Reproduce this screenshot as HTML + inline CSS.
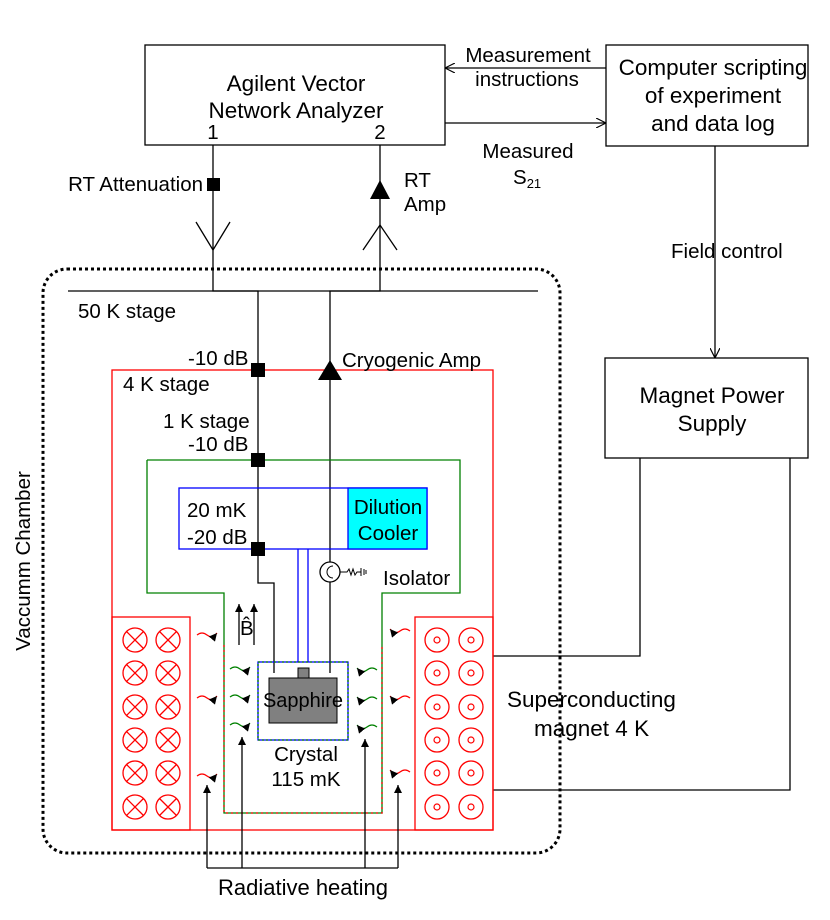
<!DOCTYPE html>
<html><head><meta charset="utf-8"><style>
html,body{margin:0;padding:0;background:#fff}
svg{display:block}
text{font-family:"Liberation Sans",Arial,sans-serif;font-size:20.5px;fill:#000}
.big{font-size:22.5px}
</style></head><body>
<svg width="830" height="920" viewBox="0 0 830 920" xmlns="http://www.w3.org/2000/svg">
<defs>
<marker id="ah" markerWidth="10" markerHeight="10" refX="9" refY="5" orient="auto" markerUnits="userSpaceOnUse"><path d="M0,0 L10,5 L0,10" fill="none" stroke="#000" stroke-width="1.2"/></marker>
<marker id="fa" markerWidth="8" markerHeight="10" refX="8" refY="4" orient="auto" markerUnits="userSpaceOnUse"><path d="M0,0 L8,4 L0,8 z" fill="#000"/></marker>
<g id="wr"><path d="M0,0 q5,-4 10,0 t10,-2" fill="none" stroke="red" stroke-width="1.2" marker-end="url(#fa)"/></g>
<g id="wg"><path d="M0,0 q5,-4 10,0 t10,-2" fill="none" stroke="green" stroke-width="1.2" marker-end="url(#fa)"/></g>
<g id="cx"><circle r="12" fill="none" stroke="red" stroke-width="1.3"/><path d="M-8.5,-8.5 L8.5,8.5 M-8.5,8.5 L8.5,-8.5" stroke="red" stroke-width="1.3"/></g>
<g id="cd"><circle r="12" fill="none" stroke="red" stroke-width="1.3"/><circle r="3" fill="none" stroke="red" stroke-width="1.2"/></g>
</defs>
<g stroke="#000" stroke-width="1.3" fill="none">
<rect x="145" y="45" width="300" height="100"/>
<rect x="606" y="45" width="202" height="101"/>
<rect x="605" y="358" width="203" height="100"/>
<line x1="606" y1="68" x2="446" y2="68" marker-end="url(#ah)"/>
<line x1="445" y1="123" x2="605" y2="123" marker-end="url(#ah)"/>
<line x1="715" y1="146" x2="715" y2="357" marker-end="url(#ah)"/>
<polyline points="640,458 640,656 493,656"/>
<polyline points="790,458 790,790 493,790"/>
<rect x="43" y="269" width="517" height="584" rx="24" stroke-width="3" stroke-dasharray="3,3"/>
<line x1="68" y1="291" x2="538" y2="291"/>
<polyline points="213,145 213,291 258,291 258,583 274,583 274,673"/>
<polyline points="380,145 380,291 330,291 330,562"/>
<line x1="330" y1="582" x2="330" y2="673"/>
<path d="M196,222 L213,250 L230,222"/>
<path d="M363,250 L380,225 L397,250"/>
</g>
<rect x="207" y="178" width="13" height="13" fill="#000"/>
<path d="M380,180 L370,199 L390,199 z" fill="#000"/>
<rect x="112" y="370" width="381" height="460" fill="none" stroke="red" stroke-width="1.3"/>
<polyline points="147,460 147,593 224,593 224,813 382,813 382,593 460,593 460,460 147,460" fill="none" stroke="green" stroke-width="1.3"/>
<polyline points="224,645 224,813 382,813 382,645" fill="none" stroke="red" stroke-width="1.3" stroke-dasharray="2,3"/>
<rect x="179" y="488" width="248" height="61" fill="none" stroke="blue" stroke-width="1.3"/>
<rect x="348" y="488" width="79" height="61" fill="#00ffff" stroke="blue" stroke-width="1.3"/>
<line x1="298" y1="549" x2="298" y2="662" stroke="blue" stroke-width="1.3"/>
<line x1="308" y1="549" x2="308" y2="662" stroke="blue" stroke-width="1.3"/>
<g fill="#000">
<rect x="251" y="363" width="14" height="14"/>
<rect x="251" y="453" width="14" height="14"/>
<rect x="251" y="542" width="14" height="14"/>
<path d="M330,360 L318,380 L342,380 z"/>
</g>
<circle cx="330" cy="572" r="10" fill="#fff" stroke="#000" stroke-width="1.3"/>
<path d="M333,566 a6,6 0 1 0 0,12" fill="none" stroke="#000" stroke-width="1"/>
<path d="M340,572 L347,572 l2,-3 l2,6 l2,-6 l2,6 l2,-3 L361,572 M361,568 v8 M364,569 v6 M366,570 v4" fill="none" stroke="#000" stroke-width="1"/>
<rect x="258" y="662" width="90" height="78" fill="none" stroke="blue" stroke-width="1.3"/>
<rect x="258" y="662" width="90" height="78" fill="none" stroke="green" stroke-width="1.3" stroke-dasharray="2,2"/>
<rect x="269" y="678" width="68" height="45" fill="#808080" stroke="#000" stroke-width="1"/>
<rect x="298" y="668" width="11" height="10" fill="#808080" stroke="#000" stroke-width="1"/>
<rect x="112" y="617" width="78" height="213" fill="none" stroke="red" stroke-width="1.3"/>
<rect x="415" y="617" width="78" height="213" fill="none" stroke="red" stroke-width="1.3"/>
<g>
<use href="#cx" x="135" y="640"/><use href="#cx" x="168" y="640"/>
<use href="#cx" x="135" y="673"/><use href="#cx" x="168" y="673"/>
<use href="#cx" x="135" y="707"/><use href="#cx" x="168" y="707"/>
<use href="#cx" x="135" y="740"/><use href="#cx" x="168" y="740"/>
<use href="#cx" x="135" y="773"/><use href="#cx" x="168" y="773"/>
<use href="#cx" x="135" y="807"/><use href="#cx" x="168" y="807"/>
<use href="#cd" x="437" y="640"/><use href="#cd" x="471" y="640"/>
<use href="#cd" x="437" y="673"/><use href="#cd" x="471" y="673"/>
<use href="#cd" x="437" y="707"/><use href="#cd" x="471" y="707"/>
<use href="#cd" x="437" y="740"/><use href="#cd" x="471" y="740"/>
<use href="#cd" x="437" y="773"/><use href="#cd" x="471" y="773"/>
<use href="#cd" x="437" y="807"/><use href="#cd" x="471" y="807"/>
</g>
<use href="#wr" x="197" y="635"/><use href="#wr" x="197" y="698"/><use href="#wr" x="197" y="776"/>
<use href="#wg" x="230" y="669"/><use href="#wg" x="230" y="697"/><use href="#wg" x="230" y="725"/>
<use href="#wg" transform="translate(377,670) scale(-1,1)"/><use href="#wg" transform="translate(377,699) scale(-1,1)"/><use href="#wg" transform="translate(377,727) scale(-1,1)"/>
<use href="#wr" transform="translate(410,631) scale(-1,1)"/><use href="#wr" transform="translate(410,698) scale(-1,1)"/><use href="#wr" transform="translate(410,772) scale(-1,1)"/>
<g stroke="#000" stroke-width="1.3" fill="none">
<line x1="239" y1="645" x2="239" y2="604" marker-end="url(#fa)"/>
<line x1="254" y1="645" x2="254" y2="604" marker-end="url(#fa)"/>
<line x1="207" y1="868" x2="207" y2="785" marker-end="url(#fa)"/>
<line x1="242" y1="868" x2="242" y2="737" marker-end="url(#fa)"/>
<line x1="365" y1="868" x2="365" y2="739" marker-end="url(#fa)"/>
<line x1="398" y1="868" x2="398" y2="785" marker-end="url(#fa)"/>
<line x1="207" y1="868" x2="398" y2="868"/>
</g>
<g text-anchor="middle">
<text class="big" x="296" y="91">Agilent Vector</text>
<text class="big" x="296" y="118">Network Analyzer</text>
<text x="213" y="139">1</text>
<text x="380" y="139">2</text>
<text class="big" x="713" y="75">Computer scripting</text>
<text class="big" x="713" y="103">of experiment</text>
<text class="big" x="713" y="131">and data log</text>
<text class="big" x="712" y="403">Magnet Power</text>
<text class="big" x="712" y="431">Supply</text>
<text x="528" y="62">Measurement</text>
<text x="527" y="86">instructions</text>
<text x="528" y="158">Measured</text>
<text x="388" y="514">Dilution</text>
<text x="388" y="540">Cooler</text>
<text x="303" y="707" style="font-size:20px">Sapphire</text>
<text x="306" y="761">Crystal</text>
<text x="306" y="786">115 mK</text>
<text x="303" y="895" style="font-size:22px">Radiative heating</text>
</g>
<text x="513" y="184">S<tspan font-size="13" dy="4">21</tspan></text>
<text x="203" y="191" text-anchor="end">RT Attenuation</text>
<text x="404" y="187">RT</text>
<text x="404" y="211">Amp</text>
<text x="671" y="258">Field control</text>
<text x="78" y="318">50 K stage</text>
<text x="188" y="365">-10 dB</text>
<text x="342" y="367">Cryogenic Amp</text>
<text x="123" y="391">4 K stage</text>
<text x="163" y="428">1 K stage</text>
<text x="188" y="451">-10 dB</text>
<text x="187" y="517">20 mK</text>
<text x="187" y="544">-20 dB</text>
<text x="383" y="585">Isolator</text>
<text x="240" y="635">B̂</text>
<text class="big" x="507" y="707">Superconducting</text>
<text class="big" x="534" y="736">magnet 4 K</text>
<text transform="translate(30,561) rotate(-90)" text-anchor="middle">Vaccumm Chamber</text>
</svg>
</body></html>
